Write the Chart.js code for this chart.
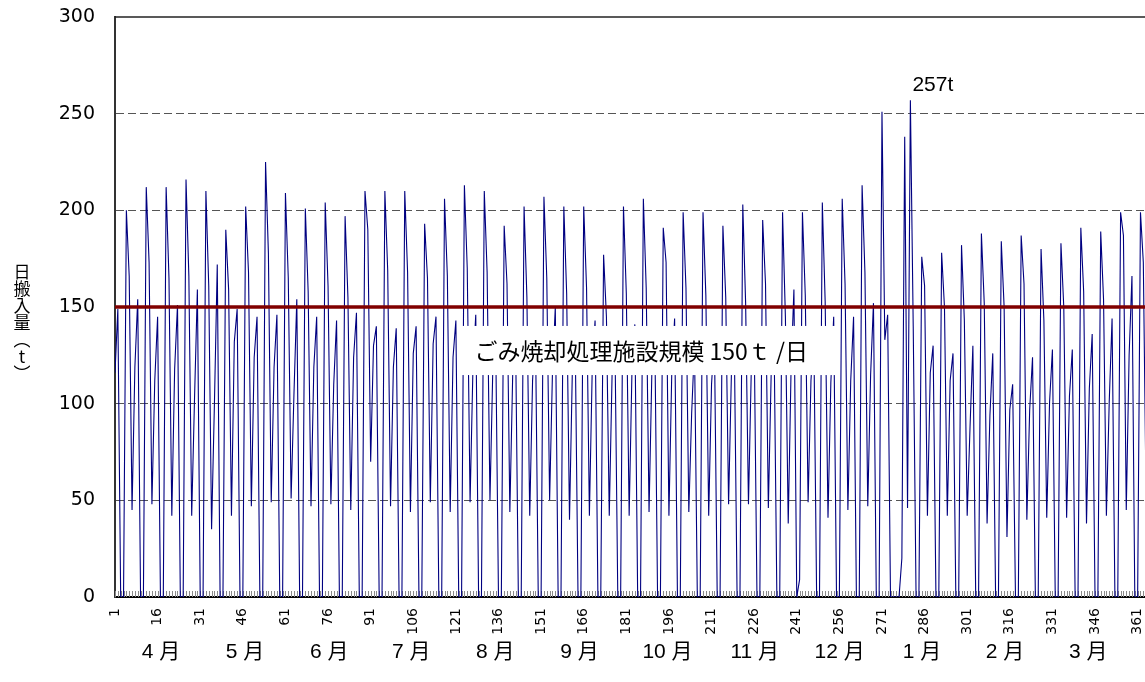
<!DOCTYPE html>
<html lang="ja">
<head>
<meta charset="utf-8">
<title>日搬入量</title>
<script src="https://cdn.jsdelivr.net/npm/chart.js@4.4.1/dist/chart.umd.min.js"></script>
<style>
  html, body { margin: 0; padding: 0; background: #fff; overflow: hidden; }
  #wrap { width: 1149px; height: 682px; }
</style>
</head>
<body>
<div id="wrap"><canvas id="chart" width="1149" height="682"></canvas></div>
<script>
// daily intake (t), day 1 = 4/1 ... day 365 = 3/31
const dailyTonnage = [
  116, 149, 0, 0,
  200, 166, 45, 119, 154, 0, 0,
  212, 173, 48, 112, 145, 0, 0,
  212, 165, 42, 118, 151, 0, 0,
  216, 166, 42, 103, 159, 0, 0,
  210, 161, 35, 100, 172, 0, 0,
  190, 159, 42, 132, 149, 0, 0,
  202, 168, 47, 124, 145, 0, 0,
  225, 178, 49, 119, 146, 0, 0,
  209, 165, 51, 105, 154, 0, 0,
  201, 158, 47, 119, 145, 0, 0,
  204, 161, 48, 110, 143, 0, 0,
  197, 155, 45, 124, 147, 0, 0,
  210, 190, 70, 130, 140, 0, 0,
  210, 169, 47, 119, 139, 0, 0,
  210, 168, 44, 126, 140, 0, 0,
  193, 165, 49, 131, 145, 0, 0,
  206, 166, 44, 124, 143, 0, 0,
  213, 170, 49, 118, 146, 0, 0,
  210, 168, 50, 118, 135, 0, 0,
  192, 162, 44, 115, 136, 0, 0,
  202, 155, 42, 112, 140, 0, 0,
  207, 165, 50, 116, 150, 0, 0,
  202, 157, 40, 117, 134, 0, 0,
  202, 160, 42, 118, 143, 0, 0,
  177, 145, 42, 116, 132, 0, 0,
  202, 157, 42, 118, 141, 0, 0,
  206, 160, 44, 117, 140, 0, 0,
  191, 173, 42, 116, 144, 0, 0,
  199, 160, 44, 95, 130, 0, 0,
  199, 156, 42, 110, 135, 0, 0,
  192, 155, 48, 116, 133, 0, 0,
  203, 152, 48, 118, 136, 0, 0,
  195, 162, 46, 116, 135, 0, 0,
  199, 145, 38, 118, 159, 0, 9,
  199, 156, 49, 112, 136, 0, 0,
  204, 153, 41, 111, 145, 0, 0,
  206, 162, 45, 112, 145, 0, 0,
  213, 168, 47, 115, 152, 0, 0,
  251, 133, 146, 0, 0, 0, 0,
  20, 238, 46, 257, 140, 0, 0,
  176, 161, 42, 116, 130, 0, 0,
  178, 150, 42, 112, 126, 0, 0,
  182, 143, 42, 88, 130, 0, 0,
  188, 152, 38, 94, 126, 0, 0,
  184, 150, 31, 97, 110, 0, 0,
  187, 162, 40, 97, 124, 0, 0,
  180, 143, 41, 101, 128, 0, 0,
  183, 150, 41, 104, 128, 0, 0,
  191, 158, 38, 108, 136, 0, 0,
  189, 154, 42, 101, 144, 0, 0,
  199, 187, 45, 125, 166, 0, 0,
  199, 173, 48, 115
];
const dayNumbers = dailyTonnage.map((v, i) => i + 1);

const tickDays = [1, 16, 31, 46, 61, 76, 91, 106, 121, 136, 151, 166, 181,
  196, 211, 226, 241, 256, 271, 286, 301, 316, 331, 346, 361];
const yTicks = [0, 50, 100, 150, 200, 250, 300];

const monthLabels = ['4 月', '5 月', '6 月', '7 月', '8 月', '9 月',
  '10 月', '11 月', '12 月', '1 月', '2 月', '3 月'];
const monthLabelDays = [17.2, 46.8, 76.4, 105.3, 134.9, 164.5, 195.5, 226.2, 256.1, 285.1, 314.3, 343.6];

const capacity = 150;
const capacityLabel = 'ごみ焼却処理施設規模 150ｔ /日';
// white label box in data units (days, t)
const capacityBoxDays = [122.6, 254.8];
const capacityBoxValues = [114.8, 140.2];

const yTitleChars = ['日', '搬', '入', '量', '︵', 't', '︶'];

const decor = {
  id: 'decor',
  beforeDatasetsDraw(chart) {
    const {ctx, chartArea: a, scales: {x}} = chart;
    // small day tick marks on the category axis
    ctx.save();
    ctx.strokeStyle = '#8a8a8a';
    ctx.lineWidth = 1;
    ctx.beginPath();
    dayNumbers.forEach(d => {
      const px = Math.round(x.getPixelForValue(d)) + 0.5;
      ctx.moveTo(px, a.bottom - 6);
      ctx.lineTo(px, a.bottom);
    });
    ctx.stroke();
    ctx.restore();
  },
  afterDatasetsDraw(chart) {
    const {ctx, chartArea: a, scales: {x, y}} = chart;
    ctx.save();
    // capacity label box
    const bx1 = x.getPixelForValue(capacityBoxDays[0]);
    const bx2 = x.getPixelForValue(capacityBoxDays[1]);
    const by1 = y.getPixelForValue(capacityBoxValues[1]);
    const by2 = y.getPixelForValue(capacityBoxValues[0]);
    ctx.fillStyle = '#fff';
    ctx.fillRect(bx1, by1, bx2 - bx1, by2 - by1);
    ctx.fillStyle = '#000';
    ctx.font = "23px 'Noto Sans CJK JP'";
    ctx.textBaseline = 'middle';
    ctx.textAlign = 'left';
    ctx.fillText(capacityLabel, bx1 + 14, (by1 + by2) / 2 + 1);

    // max value label
    const maxVal = Math.max(...dailyTonnage);
    const maxDay = dayNumbers[dailyTonnage.indexOf(maxVal)];
    ctx.font = "21px 'Liberation Sans'";
    ctx.textBaseline = 'alphabetic';
    ctx.fillText(maxVal + 't', x.getPixelForValue(maxDay) + 2, y.getPixelForValue(maxVal) - 9);

    // top border of plot area
    ctx.strokeStyle = '#222';
    ctx.lineWidth = 1.5;
    ctx.beginPath();
    ctx.moveTo(a.left, a.top);
    ctx.lineTo(a.right, a.top);
    ctx.stroke();
    ctx.restore();
  },
  afterDraw(chart) {
    const {ctx, scales: {x}} = chart;
    ctx.save();
    ctx.fillStyle = '#000';
    ctx.textAlign = 'center';
    ctx.textBaseline = 'middle';
    // month row
    ctx.font = "21px 'Liberation Sans', 'Noto Sans CJK JP'";
    monthLabels.forEach((m, i) => {
      ctx.fillText(m, x.getPixelForValue(monthLabelDays[i]), 652);
    });
    // vertical y-axis title
    ctx.font = "17px 'Noto Sans CJK JP'";
    yTitleChars.forEach((c, i) => {
      ctx.fillText(c, 22, 272 + i * 17);
    });
    ctx.restore();
  }
};

const ctx = document.getElementById('chart').getContext('2d');
new Chart(ctx, {
  type: 'line',
  data: {
    datasets: [
      {
        label: '施設規模',
        data: [{x: 1, y: capacity}, {x: dayNumbers.length, y: capacity}],
        borderColor: '#800000',
        borderWidth: 3.5,
        pointRadius: 0,
        order: 0
      },
      {
        label: '日搬入量',
        data: dayNumbers.map((d, i) => ({x: d, y: dailyTonnage[i]})),
        borderColor: '#000080',
        borderWidth: 1.1,
        pointRadius: 0,
        tension: 0,
        order: 1
      }
    ]
  },
  options: {
    responsive: false,
    animation: false,
    layout: {padding: {top: 17, right: 0, left: 0, bottom: 0}},
    plugins: {legend: {display: false}, tooltip: {enabled: false}},
    scales: {
      x: {
        type: 'linear',
        min: 1,
        max: dayNumbers.length,
        afterBuildTicks: s => { s.ticks = tickDays.map(v => ({value: v})); },
        afterFit: s => { s.height = 85; s.paddingLeft = 0; s.paddingRight = 0; },
        grid: {display: false, drawTicks: false},
        border: {display: true, color: '#000', width: 2},
        ticks: {
          autoSkip: false,
          minRotation: 90,
          maxRotation: 90,
          padding: 11,
          color: '#000',
          font: {family: 'DejaVu Sans', size: 14},
          callback: v => String(v)
        }
      },
      y: {
        min: 0,
        max: 300,
        afterBuildTicks: s => { s.ticks = yTicks.map(v => ({value: v})); },
        afterFit: s => { s.width = 115; s.paddingTop = 0; s.paddingBottom = 0; },
        grid: {
          color: c => (c.tick && (c.tick.value === 0 || c.tick.value === 300)) ? 'rgba(0,0,0,0)' : '#555',
          lineWidth: 1,
          drawTicks: false
        },
        border: {display: true, color: '#333', width: 2, dash: [8, 4]},
        ticks: {
          padding: 20,
          color: '#000',
          font: {family: 'DejaVu Sans', size: 19}
        }
      }
    }
  },
  plugins: [decor]
});
</script>
</body>
</html>
